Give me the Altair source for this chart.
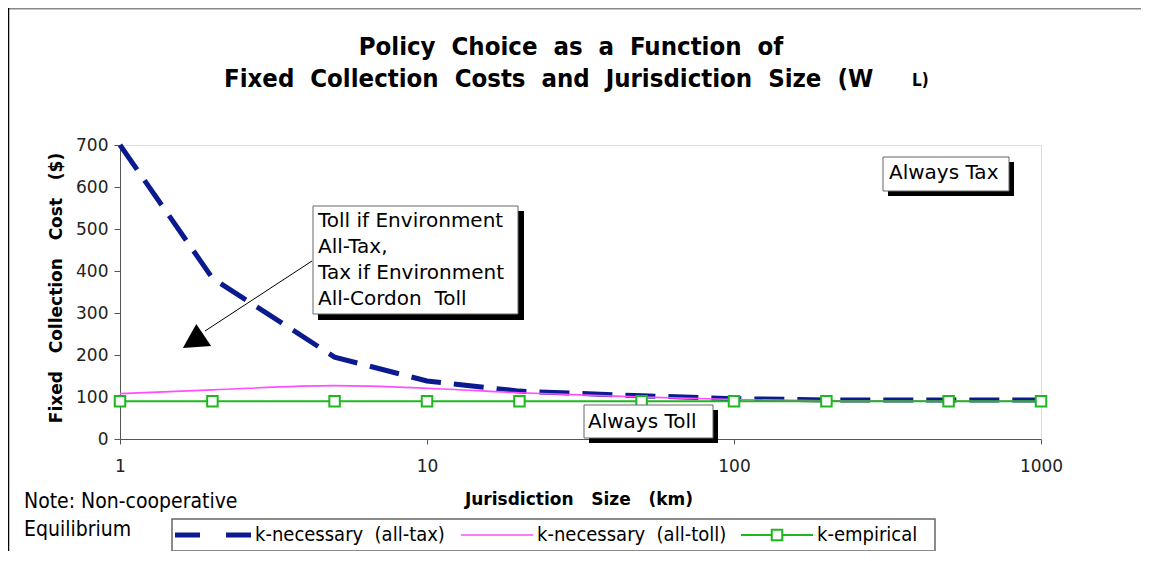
import altair as alt
import pandas as pd

# ---- data ----
sizes = [1, 2, 5, 10, 20, 50, 100, 200, 500, 1000]
k_tax = [700, 383, 195, 138, 114, 103, 96, 93, 93, 93]
k_toll = [108, 117, 127, 121, 110, 100, 94, 91, 90, 90]
k_emp = [90, 90, 90, 90, 90, 90, 90, 90, 90, 90]
y_ticks = [0, 100, 200, 300, 400, 500, 600, 700]
x_ticks = [1, 10, 100, 1000]

NB = "\u00a0"
S2 = " " + NB          # visible double space
S3 = " " + NB + NB     # visible triple space

title1 = S2.join(["Policy", "Choice", "as", "a", "Function", "of"])
title2 = S2.join(["Fixed", "Collection", "Costs", "and", "Jurisdiction", "Size", "(W"])
title2_sub = "L)"
x_title = S3.join(["Jurisdiction", "Size", "(km)"])
y_title = S3.join(["Fixed", "Collection", "Cost", "($)"])
note1 = "Note: Non-cooperative"
note2 = "Equilibrium"
leg_names = ["k-necessary" + S2 + "(all-tax)", "k-necessary" + S2 + "(all-toll)", "k-empirical"]
box1_lines = ["Toll if Environment", "All-Tax,", "Tax if Environment", "All-Cordon" + S2 + "Toll"]
tax_label = "Always Tax"
toll_label = "Always Toll"

BLUE = "#0B1A8F"
PINK = "#FF4DFF"
GREEN = "#1DB81D"
NARROW = "DejaVu Sans Condensed, sans-serif"
GENEVA = "DejaVu Sans, Verdana, sans-serif"

W, H = 921, 294

df_tax = pd.DataFrame({"x": sizes, "y": k_tax})
df_toll = pd.DataFrame({"x": sizes, "y": k_toll})
df_emp = pd.DataFrame({"x": sizes, "y": k_emp})

xs = alt.Scale(type="log", domain=[1, 1000])
ys = alt.Scale(domain=[0, 700])

xenc = alt.X("x:Q", scale=xs, axis=alt.Axis(values=x_ticks, format="d", title=None, grid=False,
                                            tickSize=5, labelPadding=14, labelFontSize=17,
                                            labelFont=GENEVA, labelColor="#222", domainColor="#555",
                                            tickColor="#555", labelFlush=False))
yenc = alt.Y("y:Q", scale=ys, axis=alt.Axis(values=y_ticks, title=None, grid=False,
                                            tickSize=6, labelPadding=6, labelFontSize=17,
                                            labelFont=GENEVA, labelColor="#222", domainColor="#555",
                                            tickColor="#555"))

line_tax = alt.Chart(df_tax).mark_line(color=BLUE, strokeWidth=5, strokeDash=[30, 13]).encode(x=xenc, y=yenc)
line_toll = alt.Chart(df_toll).mark_line(color=PINK, strokeWidth=1.6, interpolate="monotone").encode(x="x:Q", y="y:Q")
line_emp = alt.Chart(df_emp).mark_line(color=GREEN, strokeWidth=2).encode(x="x:Q", y="y:Q")
pts_emp = alt.Chart(df_emp).mark_point(shape="square", size=110, filled=True, fill="white",
                                       stroke=GREEN, strokeWidth=2, opacity=1).encode(x="x:Q", y="y:Q")

one = pd.DataFrame({"a": [0]})


def txt(text, x, y, size=17, font=GENEVA, weight="normal", align="left", angle=0, baseline="middle"):
    kw = dict(text=text, fontSize=size, font=font, fontWeight=weight, align=align,
              baseline=baseline, color="black")
    if angle:
        kw["angle"] = angle
    return alt.Chart(one).mark_text(**kw).encode(x=alt.value(x), y=alt.value(y))


def rect(x1, y1, x2, y2, fill="white", stroke=None, sw=1):
    kw = dict(fill=fill)
    if stroke:
        kw.update(stroke=stroke, strokeWidth=sw)
    return alt.Chart(one).mark_rect(**kw).encode(
        x=alt.value(x1), x2=alt.value(x2), y=alt.value(y1), y2=alt.value(y2))


def rule(x1, y1, x2, y2, color="black", sw=1, dash=None):
    kw = dict(color=color, strokeWidth=sw)
    if dash:
        kw["strokeDash"] = dash
    return alt.Chart(one).mark_rule(**kw).encode(
        x=alt.value(x1), x2=alt.value(x2), y=alt.value(y1), y2=alt.value(y2))


layers = [line_tax, line_toll, line_emp, pts_emp]

# frame of the whole chart
layers += [rule(-112, -136.5, 1040, -136.5, color="#888", sw=2),
           rule(-111.5, -137, -111.5, 420, color="black", sw=1.5)]

# titles
TF = "DejaVu Sans Condensed, DejaVu Sans"
layers += [txt(title1, 451, -98, size=25.5, font=TF, weight="bold", align="center"),
           txt(title2, 104, -66, size=25.5, font=TF, weight="bold", align="left"),
           txt(title2_sub, 792, -64, size=17, font=TF, weight="bold", align="left")]

# axis titles
layers += [txt(x_title, 459, 355, size=17, weight="bold", align="center"),
           txt(y_title, -63, 143, size=17, weight="bold", align="center", angle=270)]

# notes
layers += [txt(note1, -96, 357, size=21, font=NARROW), txt(note2, -96, 385, size=21, font=NARROW)]

# annotation box 1 with arrow
layers += [rule(192, 116, 85, 186, color="black", sw=1),
           alt.Chart(one).mark_point(shape="M-1,0.85 L1,0.7 L-0.05,-0.85 Z", size=800, filled=True,
                                     color="black", opacity=1).encode(x=alt.value(77), y=alt.value(191)),
           rect(198, 66, 404, 175, fill="black"),
           rect(193, 61, 398, 169, fill="white", stroke="#666", sw=1)]
for i, line in enumerate(box1_lines):
    layers.append(txt(line, 198, 76 + 26 * i, size=20))

# Always Tax
layers += [rect(768, 17, 894, 51, fill="black"), rect(763, 12, 889, 46, fill="white", stroke="#666"),
           txt(tax_label, 769, 28, size=20)]
# Always Toll
layers += [rect(469, 265, 598, 298, fill="black"), rect(464, 260, 593, 293, fill="white", stroke="#666"),
           txt(toll_label, 468, 277, size=20)]

# legend
layers += [rect(52, 374, 815, 406, fill="white", stroke="#666", sw=1.5),
           rule(55, 390, 132, 390, color=BLUE, sw=5, dash=[25, 26]),
           txt(leg_names[0], 135, 390, size=20, font=NARROW),
           rule(341, 390, 413, 390, color=PINK, sw=1.6),
           txt(leg_names[1], 417, 390, size=20, font=NARROW),
           rule(621, 390, 693, 390, color=GREEN, sw=2),
           alt.Chart(one).mark_point(shape="square", size=110, filled=True, fill="white", stroke=GREEN,
                                     strokeWidth=2, opacity=1).encode(x=alt.value(657), y=alt.value(390)),
           txt(leg_names[2], 697, 390, size=20, font=NARROW)]

chart = alt.layer(*layers).properties(
    width=W, height=H,
    autosize=alt.AutoSizeParams(type="none"),
    padding={"left": 112, "top": 137, "right": 100, "bottom": 112},
).configure_view(stroke="#999", strokeWidth=1.5).configure(background="white")

chart.save("out.html", embed_options={"renderer": "svg", "actions": False})
